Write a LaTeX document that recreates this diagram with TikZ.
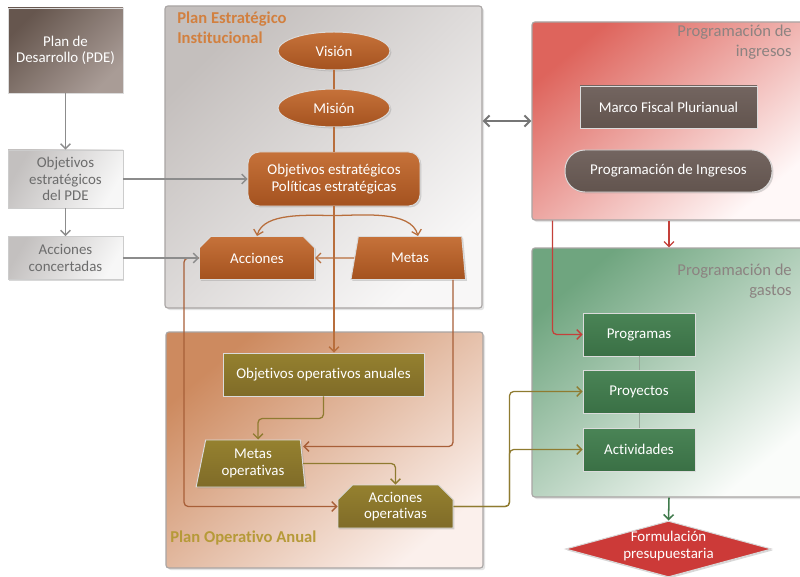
\documentclass[tikz,border=0pt]{standalone}
\usepackage{fontspec}
\setmainfont{Carlito}[Ligatures=NoCommon]
\usetikzlibrary{shapes.geometric,shapes.misc,arrows.meta,shadows}

% panel shadings
\definecolor{peiA}{HTML}{C4BFBD}
\definecolor{peiB}{HTML}{F8F7F7}
\definecolor{poaA}{HTML}{CD8A5F}
\definecolor{poaB}{HTML}{FBF0EC}
\definecolor{piA}{HTML}{DE645C}
\definecolor{piB}{HTML}{FFF8F8}
\definecolor{pgA}{HTML}{6FA57F}
\definecolor{pgB}{HTML}{FAFCFA}
\definecolor{rimgray}{HTML}{A9A5A4}
% box fills
\definecolor{orgA}{HTML}{C6723A}
\definecolor{orgB}{HTML}{A4521F}
\definecolor{oliveA}{HTML}{95812F}
\definecolor{oliveB}{HTML}{7F6B28}
\definecolor{greenA}{HTML}{4A8456}
\definecolor{greenB}{HTML}{3A7045}
\definecolor{slateA}{HTML}{736560}
\definecolor{slateB}{HTML}{62544E}
\definecolor{pdeA}{HTML}{66564E}
\definecolor{pdeB}{HTML}{A99C96}
\definecolor{lgA}{HTML}{C3C0BF}
\definecolor{lgB}{HTML}{F7F7F7}
\definecolor{lgtext}{HTML}{6C6C6C}
\definecolor{redfill}{HTML}{CC3A38}
% titles
\definecolor{peititle}{HTML}{D2803F}
\definecolor{poatitle}{HTML}{B69A38}
\definecolor{rtitle}{HTML}{8C8381}
% connectors
\definecolor{lnGray}{HTML}{8C8C8C}
\definecolor{lnOrange}{HTML}{B86E3C}
\definecolor{lnBrown}{HTML}{A85F38}
\definecolor{lnOlive}{HTML}{8F7B30}
\definecolor{lnRed}{HTML}{C4403A}
\definecolor{lnGreen}{HTML}{3F7A4B}
\definecolor{lnLink}{HTML}{9AA89C}
\definecolor{lnDbl}{HTML}{767676}

\begin{document}
\begin{tikzpicture}[x=0.025cm,y=-0.025cm,
  >={Straight Barb[length=3.5pt,width=7pt]},
  sz/.style 2 args={minimum width=#1*0.025cm, minimum height=#2*0.025cm},
  ntext/.style={inner sep=1pt, align=center, font=\fontsize{10.6}{11.6}\selectfont, text=white},
  base/.style={ntext, draw=white!72!gray, line width=0.7pt,
    drop shadow={opacity=0.3, shadow xshift=1pt, shadow yshift=-1pt}},
  panel/.style={draw=rimgray, line width=0.8pt, rounded corners=2pt,
    drop shadow={opacity=0.22, shadow xshift=1.5pt, shadow yshift=-1.5pt}},
  orangebox/.style={base, top color=orgA, bottom color=orgB},
  olivebox/.style={base, top color=oliveA, bottom color=oliveB},
  greenbox/.style={base, top color=greenA, bottom color=greenB, sz={112}{43}},
  slatebox/.style={base, top color=slateA, bottom color=slateB},
  lightbox/.style={base, text=lgtext, draw=white!60!gray, top color=lgA, bottom color=lgB, shading angle=60, sz={115}{#1}},
  snipbox/.style={chamfered rectangle, chamfered rectangle corners={north west, north east},
    chamfered rectangle xsep=0.25cm},
  trapbox/.style={trapezium, trapezium stretches=true},
  title/.style={inner sep=0pt, font=\fontsize{11.8}{14}\selectfont},
  conn/.style={line width=0.9pt, rounded corners=3pt},
  gray line/.style={conn, draw=lnGray},
  orange line/.style={conn, draw=lnOrange},
  brown line/.style={conn, draw=lnBrown},
  olive line/.style={conn, draw=lnOlive},
  red line/.style={conn, draw=lnRed},
  green line/.style={conn, draw=lnGreen, line width=1.1pt},
  link line/.style={line width=0.6pt, draw=lnLink},
  dbl line/.style={line width=1.4pt, draw=lnDbl, >={Straight Barb[length=4pt,width=8pt]}}
]
\clip (0,0) rectangle (800,577);
\fill[white] (0,0) rectangle (800,577);

% ---- panels ----
\node[panel, sz={317}{302}, top color=peiA, bottom color=peiB, shading angle=45] (pei) at (323.5,157) {};
\node[panel, sz={317}{236}, top color=poaA, bottom color=poaB, shading angle=40] (poa) at (324.5,450) {};
\node[panel, sz={274}{198}, top color=piA, bottom color=piB, shading angle=40] (pi) at (669,121) {};
\node[panel, sz={274}{249}, top color=pgA, bottom color=pgB, shading angle=40] (pg) at (669,372.5) {};

\node[title, font=\bfseries\fontsize{11.8}{14}\selectfont, text=peititle, anchor=north west, align=left] (peiT) at (177,12) {Plan Estratégico\\Institucional};
\node[title, font=\bfseries\fontsize{11.8}{14}\selectfont, text=poatitle, anchor=west] (poaT) at (170,538) {Plan Operativo Anual};
\node[title, text=rtitle, anchor=north east, align=right] (piT) at (792,25) {Programación de\\ingresos};
\node[title, text=rtitle, anchor=north east, align=right] (pgT) at (792,264) {Programación de\\gastos};

% ---- left column ----
\node[base, top color=pdeA, bottom color=pdeB, shading angle=45, sz={115}{85}] (pde) at (65.5,50.5) {Plan de\\Desarrollo (PDE)};
\node[lightbox=58] (objpde) at (65.5,179) {Objetivos\\estratégicos\\del PDE};
\node[lightbox=43] (acccon) at (65.5,258) {Acciones\\concertadas};

% ---- strategic plan ----
\node[orangebox, ellipse, sz={112}{38}] (vision) at (334,51) {Visión};
\node[orangebox, ellipse, sz={112}{38}] (mision) at (334,108) {Misión};
\node[orangebox, rounded corners=8pt, sz={172}{54}] (objest) at (334,179) {Objetivos estratégicos\\Políticas estratégicas};
\node[orangebox, snipbox, sz={115}{43}] (acc) at (257,258) {Acciones};
\node[orangebox, trapbox, trapezium left angle=77, trapezium right angle=83, sz={115}{43}] (metas) at (410,258) {Metas};

% ---- annual operating plan ----
\node[olivebox, sz={201}{43}] (objop) at (323.5,374.5) {Objetivos operativos anuales};
\node[olivebox, trapbox, trapezium left angle=78, trapezium right angle=84, sz={109}{47}] (metasop) at (253,463.5) {Metas\\operativas};
\node[olivebox, snipbox, sz={115}{43}] (accop) at (395.5,506.5) {Acciones\\operativas};

% ---- revenue programming ----
\node[slatebox, sz={177}{42}] (mfp) at (668.5,107) {Marco Fiscal Plurianual};
\node[slatebox, rounded corners=0.5cm, sz={207}{42}] (pring) at (668.5,171) {Programación de Ingresos};

% ---- expenditure programming ----
\node[greenbox] (prog) at (639,334.5) {Programas};
\node[greenbox] (proy) at (639,391.5) {Proyectos};
\node[greenbox] (act) at (639,449.5) {Actividades};

\node[diamond, inner sep=0pt, sz={206}{56}, fill=redfill, draw=white!70!gray, line width=0.7pt,
  drop shadow={opacity=0.3, shadow xshift=1pt, shadow yshift=-1pt}] (form) at (668.5,549) {};
\node[ntext, inner sep=0pt] (formtxt) at (668.5,546) {Formulación\\presupuestaria};

% ---- connectors ----
\draw[gray line,->] (pde) -- (objpde);
\draw[gray line,->] (objpde) -- (acccon);
\draw[gray line,->] (objpde.east) -- (objpde.east -| objest.west);
\draw[brown line,->] (acc.west) -- ++(-15,0) |- (accop.west);
\draw[gray line,->] (acccon.east) -- (acccon.east -| acc.west);

\draw[orange line] (vision) -- (mision);
\draw[orange line] (mision) -- (objest);
\draw[orange line,->] (objest.south) -- (objest.south |- objop.north);
\path ([yshift=-0.225cm]objest.south) coordinate (fork);
\draw[orange line,->] (fork) to[out=180,in=75,looseness=0.8] (acc.north);
\draw[orange line,->] (fork) to[out=0,in=105,looseness=0.8] ([xshift=0.2cm]metas.north);
\draw[orange line,->] (metas) -- (acc);
\draw[brown line,->] ([xshift=1.075cm]metas.south) |- ([yshift=0.425cm]metasop.east);

\draw[olive line,->] (objop.south) -- ++(0,22) -| ([xshift=0.125cm]metasop.north);
\draw[olive line,->] (metasop.east) -| (accop.north);
\draw[olive line,->] (accop.east) -- ++(56,0) |- (proy.west);
\draw[olive line,->] (accop.east) -- ++(56,0) |- (act.west);

\draw[dbl line,<->] (pei.east |- pi.west) -- (pi.west);
\draw[red line,->] ([xshift=0.525cm]pi.south west) |- (prog.west);
\draw[red line,->] (pi.south) -- (pg.north);
\draw[link line] (prog) -- (proy);
\draw[link line] (proy) -- (act);
\draw[green line,->] (pg.south) -- (form.north);
\end{tikzpicture}
\end{document}
